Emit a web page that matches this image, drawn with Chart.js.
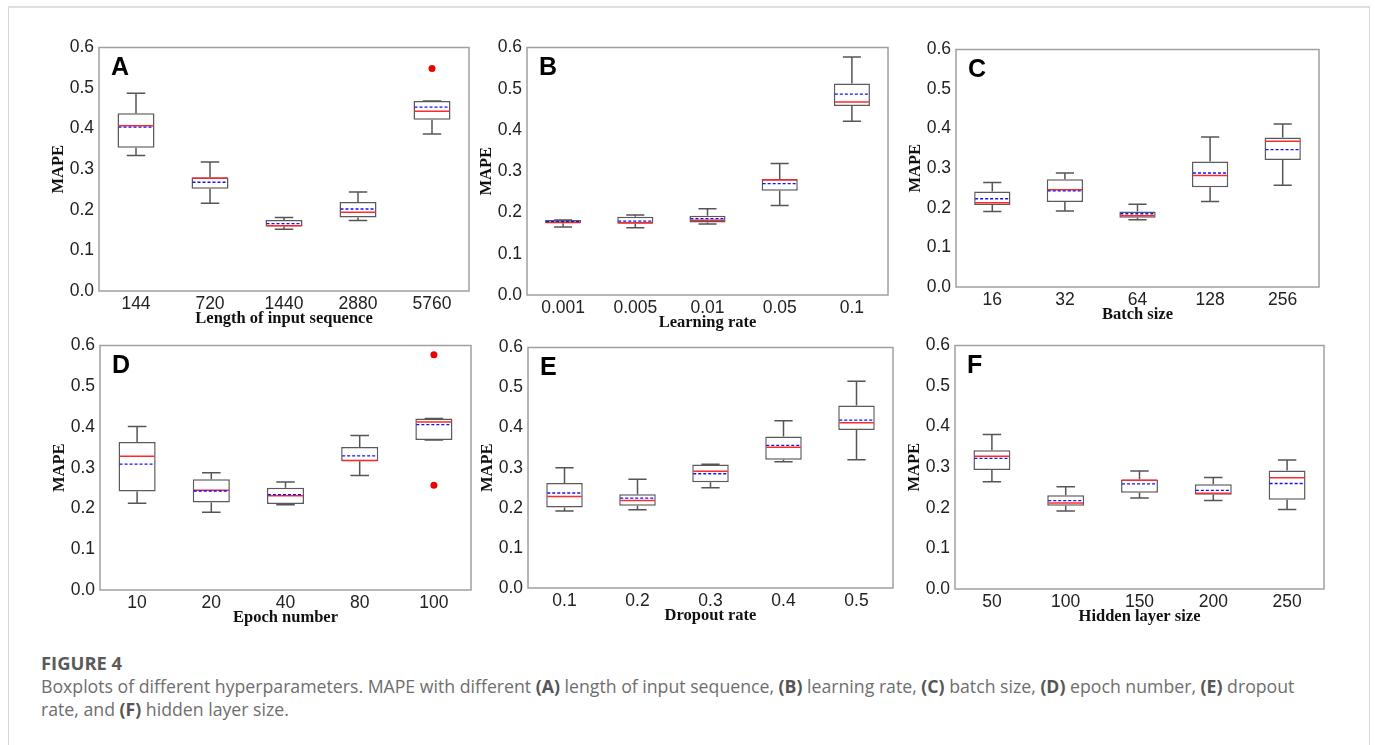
<!DOCTYPE html>
<html>
<head>
<meta charset="utf-8">
<title>Figure 4</title>
<script src="https://cdn.jsdelivr.net/npm/chart.js@4.4.1/dist/chart.umd.min.js"></script>
<style>
    html, body { margin: 0; padding: 0; background: #fff; overflow: hidden; }
    body { width: 1375px; height: 745px; position: relative; }
    .frame { position: absolute; left: 8px; top: 6px; width: 1360px; height: 800px; border: 1px solid #d6d6d6; border-top: 2px solid #e0e0e0; }
    canvas { position: absolute; }
    .fig { position: absolute; left: 41px; top: 651px; font-family: "Open Sans", sans-serif; font-weight: 700; font-size: 18.4px; line-height: 24px; color: #5a5a5a; }
    .cap { position: absolute; left: 41px; top: 675px; font-family: "Open Sans", sans-serif; font-size: 17.7px; line-height: 23px; color: #6e6e6e; white-space: nowrap; }
    .cap b { color: #555; }
</style>
</head>
<body>
<div class="frame"></div>
<canvas id="chartA"></canvas>
<canvas id="chartB"></canvas>
<canvas id="chartC"></canvas>
<canvas id="chartD"></canvas>
<canvas id="chartE"></canvas>
<canvas id="chartF"></canvas>
<div class="fig">FIGURE 4</div>
<div class="cap">Boxplots of different hyperparameters. MAPE with different <b>(A)</b> length of input sequence, <b>(B)</b> learning rate, <b>(C)</b> batch size, <b>(D)</b> epoch number, <b>(E)</b> dropout<br>rate, and <b>(F)</b> hidden layer size.</div>
<script>
/*Categories and axis text for each panel (A..F)*/
var panelLetters = ['A', 'B', 'C', 'D', 'E', 'F'];
var xTitles = ['Length of input sequence', 'Learning rate', 'Batch size', 'Epoch number', 'Dropout rate', 'Hidden layer size'];
var categories = [
    ['144', '720', '1440', '2880', '5760'],
    ['0.001', '0.005', '0.01', '0.05', '0.1'],
    ['16', '32', '64', '128', '256'],
    ['10', '20', '40', '80', '100'],
    ['0.1', '0.2', '0.3', '0.4', '0.5'],
    ['50', '100', '150', '200', '250']
];
var yTicks = [0, 0.1, 0.2, 0.3, 0.4, 0.5, 0.6];

/*Box statistics, one row per panel*/
var whiskerLow = [
    [0.334, 0.216, 0.152, 0.174, 0.387],
    [0.165, 0.163, 0.172, 0.217, 0.421],
    [0.191, 0.192, 0.170, 0.216, 0.257],
    [0.213, 0.191, 0.209, 0.281, 0.368],
    [0.192, 0.195, 0.250, 0.315, 0.320],
    [0.264, 0.192, 0.224, 0.218, 0.196]
];
var quartile1 = [
    [0.353, 0.252, 0.159, 0.181, 0.422],
    [0.174, 0.173, 0.176, 0.253, 0.458],
    [0.207, 0.215, 0.175, 0.252, 0.321],
    [0.242, 0.215, 0.211, 0.316, 0.368],
    [0.201, 0.205, 0.264, 0.320, 0.394],
    [0.293, 0.205, 0.237, 0.232, 0.220]
];
var medians = [
    [0.407, 0.278, 0.161, 0.194, 0.443],
    [0.176, 0.175, 0.181, 0.279, 0.468],
    [0.213, 0.246, 0.180, 0.282, 0.368],
    [0.328, 0.245, 0.231, 0.318, 0.412],
    [0.228, 0.218, 0.291, 0.351, 0.412],
    [0.327, 0.212, 0.268, 0.236, 0.274]
];
var quartile3 = [
    [0.438, 0.280, 0.175, 0.219, 0.468],
    [0.182, 0.190, 0.192, 0.281, 0.513],
    [0.241, 0.272, 0.191, 0.317, 0.378],
    [0.363, 0.272, 0.251, 0.351, 0.421],
    [0.262, 0.234, 0.308, 0.378, 0.455],
    [0.342, 0.231, 0.270, 0.258, 0.292]
];
var whiskerHigh = [
    [0.487, 0.318, 0.181, 0.244, 0.468],
    [0.182, 0.194, 0.209, 0.319, 0.577],
    [0.264, 0.288, 0.209, 0.379, 0.412],
    [0.401, 0.288, 0.265, 0.379, 0.421],
    [0.300, 0.271, 0.309, 0.417, 0.516],
    [0.381, 0.252, 0.291, 0.275, 0.318]
];
var means = [
    [0.404, 0.268, 0.166, 0.202, 0.453],
    [0.178, 0.179, 0.185, 0.270, 0.487],
    [0.223, 0.243, 0.185, 0.288, 0.347],
    [0.309, 0.243, 0.234, 0.329, 0.406],
    [0.237, 0.224, 0.285, 0.356, 0.419],
    [0.322, 0.218, 0.259, 0.243, 0.260]
];
/*Outliers as [category index, value]*/
var outliers = [
    [[4, 0.548]],
    [],
    [],
    [[4, 0.577], [4, 0.257]],
    [],
    []
];

/*Plot area of each panel on the page: left, top, right, bottom*/
var plotAreas = [
    [99, 46, 469, 291],
    [527, 46, 888, 295],
    [956, 48, 1319, 287],
    [100, 344, 471, 590],
    [528, 346, 893, 588],
    [955, 344, 1324, 589]
];
var AXIS_W = 62, AXIS_H = 44, PAD_TOP = 14, PAD_RIGHT = 8;

/*Whiskers, medians, means, frame and panel letter*/
var boxPlotPlugin = {
    id: 'boxPlot',
    afterDatasetsDraw: function (chart) {
        var p = chart.options.plugins.boxPlot;
        var ctx = chart.ctx;
        var xs = chart.scales.x, ys = chart.scales.y;
        var meta = chart.getDatasetMeta(0);
        ctx.save();
        for (var i = 0; i < meta.data.length; i++) {
            var bar = meta.data[i];
            var x = xs.getPixelForValue(i);
            var half = bar.width / 2;
            var cap = bar.width / 4;
            var yLo = ys.getPixelForValue(p.low[i]);
            var yHi = ys.getPixelForValue(p.high[i]);
            var yQ1 = ys.getPixelForValue(p.q1[i]);
            var yQ3 = ys.getPixelForValue(p.q3[i]);
            ctx.strokeStyle = '#555555';
            ctx.lineWidth = 1.5;
            ctx.setLineDash([]);
            ctx.beginPath();
            ctx.moveTo(x, yQ3); ctx.lineTo(x, yHi);
            ctx.moveTo(x - cap, yHi); ctx.lineTo(x + cap, yHi);
            ctx.moveTo(x, yQ1); ctx.lineTo(x, yLo);
            ctx.moveTo(x - cap, yLo); ctx.lineTo(x + cap, yLo);
            ctx.stroke();
            /*median*/
            var yMed = ys.getPixelForValue(p.median[i]);
            ctx.strokeStyle = '#ff2a2a';
            ctx.lineWidth = 1.5;
            ctx.beginPath();
            ctx.moveTo(x - half + 1, yMed); ctx.lineTo(x + half - 1, yMed);
            ctx.stroke();
            /*mean*/
            var yMean = ys.getPixelForValue(p.mean[i]);
            ctx.strokeStyle = '#1010ff';
            ctx.lineWidth = 1.3;
            ctx.setLineDash([3, 2]);
            ctx.beginPath();
            ctx.moveTo(x - half + 1, yMean); ctx.lineTo(x + half - 1, yMean);
            ctx.stroke();
        }
        ctx.setLineDash([]);
        var a = chart.chartArea;
        ctx.strokeStyle = '#a0a0a0';
        ctx.lineWidth = 1.5;
        ctx.strokeRect(a.left, a.top, a.right - a.left, a.bottom - a.top);
        ctx.fillStyle = '#000';
        ctx.font = 'bold 25px "Liberation Sans", Arial, sans-serif';
        ctx.textAlign = 'left';
        ctx.textBaseline = 'alphabetic';
        ctx.fillText(p.letter, a.left + 12, a.top + 27);
        ctx.restore();
    }
};

/*Build one panel*/
function DrawPanel(idx) {
    var area = plotAreas[idx];
    var plotW = area[2] - area[0], plotH = area[3] - area[1];
    var canvas = document.getElementById('chart' + panelLetters[idx]);
    canvas.width = plotW + AXIS_W + PAD_RIGHT;
    canvas.height = plotH + PAD_TOP + AXIS_H;
    canvas.style.left = (area[0] - AXIS_W) + 'px';
    canvas.style.top = (area[1] - PAD_TOP) + 'px';
    canvas.style.width = canvas.width + 'px';
    canvas.style.height = canvas.height + 'px';

    var boxes = [];
    for (var i = 0; i < categories[idx].length; i++) {
        boxes.push([quartile1[idx][i], quartile3[idx][i]]);
    }
    var points = outliers[idx].map(function (o) {
        return { x: categories[idx][o[0]], y: o[1] };
    });

    var tickFont = { family: '"Liberation Sans", Arial, sans-serif', size: 17.5 };
    var titleFont = { family: '"Liberation Serif", "Times New Roman", serif', size: 16.5, weight: 'bold' };

    new Chart(canvas, {
        type: 'bar',
        data: {
            labels: categories[idx],
            datasets: [
                {
                    data: boxes,
                    backgroundColor: '#ffffff',
                    borderColor: '#5a5a5a',
                    borderWidth: 1.5,
                    borderSkipped: false,
                    barPercentage: 0.5,
                    categoryPercentage: 1.0
                },
                {
                    type: 'scatter',
                    data: points,
                    pointRadius: 3.5,
                    pointBackgroundColor: '#ee0000',
                    pointBorderColor: '#ee0000',
                    pointBorderWidth: 0
                }]
        },
        options: {
            responsive: false,
            animation: false,
            devicePixelRatio: 1,
            layout: { padding: { top: PAD_TOP, right: PAD_RIGHT, left: 0, bottom: 0 } },
            scales: {
                x: {
                    type: 'category',
                    offset: true,
                    grid: { display: false, drawTicks: false },
                    border: { display: false },
                    ticks: { font: tickFont, color: '#222', padding: 3, maxRotation: 0 },
                    title: { display: true, text: xTitles[idx], font: titleFont, color: '#111', padding: { top: 0, bottom: 6 } },
                    afterFit: function (scale) { scale.height = AXIS_H; }
                },
                y: {
                    min: 0,
                    max: 0.6,
                    grid: { display: false, drawTicks: false },
                    border: { display: false },
                    afterBuildTicks: function (scale) {
                        scale.ticks = yTicks.map(function (v) { return { value: v }; });
                    },
                    ticks: {
                        font: tickFont,
                        color: '#222',
                        padding: 5,
                        callback: function (v) { return Number(v).toFixed(1); }
                    },
                    title: { display: true, text: 'MAPE', font: titleFont, color: '#111', padding: { top: 12, bottom: 0 } },
                    afterFit: function (scale) { scale.width = AXIS_W; }
                }
            },
            plugins: {
                legend: { display: false },
                tooltip: { enabled: false },
                boxPlot: {
                    letter: panelLetters[idx],
                    low: whiskerLow[idx],
                    q1: quartile1[idx],
                    median: medians[idx],
                    q3: quartile3[idx],
                    high: whiskerHigh[idx],
                    mean: means[idx]
                }
            }
        },
        plugins: [boxPlotPlugin]
    });
}

for (var k = 0; k < panelLetters.length; k++) {
    DrawPanel(k);
}
</script>
</body>
</html>
